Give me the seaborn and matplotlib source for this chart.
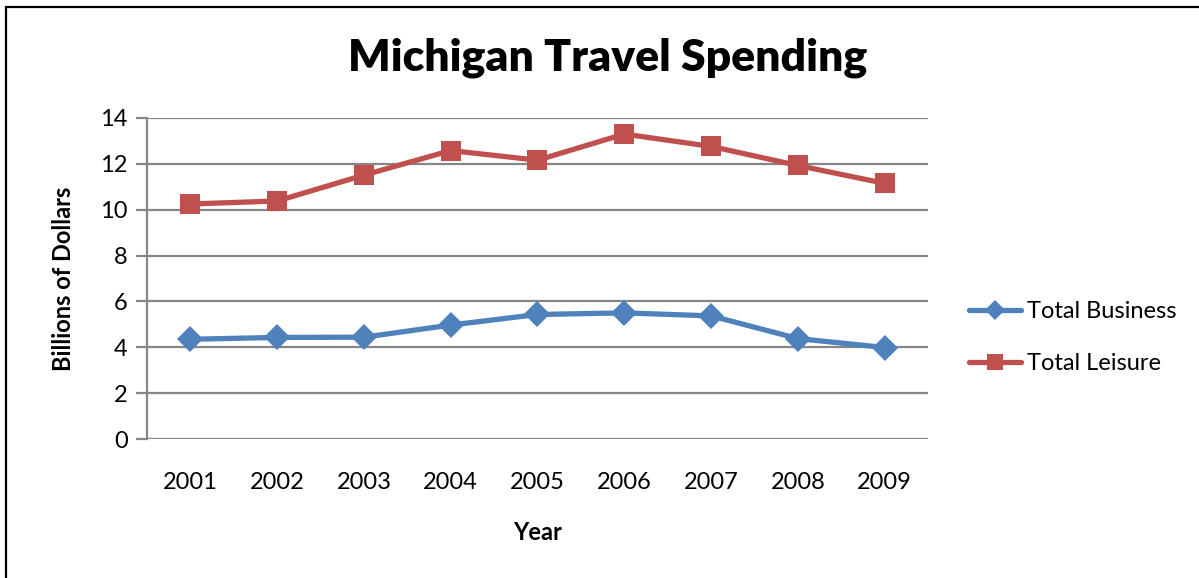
import matplotlib
matplotlib.use("Agg")
import matplotlib.pyplot as plt
import seaborn as sns
import pandas as pd
from matplotlib.patches import Rectangle

years = ["2001", "2002", "2003", "2004", "2005", "2006", "2007", "2008", "2009"]
business = [4.35, 4.43, 4.44, 4.97, 5.43, 5.50, 5.37, 4.38, 3.99]
leisure = [10.25, 10.38, 11.51, 12.58, 12.16, 13.30, 12.76, 11.93, 11.15]
series_names = ["Total Business", "Total Leisure"]
yticks = [0, 2, 4, 6, 8, 10, 12, 14]

df = pd.DataFrame({
    "Year": years * 2,
    "Value": business + leisure,
    "Series": [series_names[0]] * len(years) + [series_names[1]] * len(years),
})
df["pos"] = df["Year"].map({y: i for i, y in enumerate(years)})

sns.set_theme(style="white")
plt.rcParams["font.family"] = ["Lato", "DejaVu Sans"]
plt.rcParams["text.color"] = "black"
plt.rcParams["axes.labelcolor"] = "black"

fig = plt.figure(figsize=(11.99, 5.78), dpi=100)
ax = fig.add_axes([147 / 1199, 1 - 439 / 578, (928 - 147) / 1199, (439 - 118) / 578])

colors = {"Total Business": "#4F81BD", "Total Leisure": "#C0504D"}
markers = {"Total Business": "D", "Total Leisure": "s"}
sizes = {"Total Business": 13, "Total Leisure": 15}

for name in series_names:
    sub = df[df["Series"] == name]
    sns.lineplot(data=sub, x="pos", y="Value", ax=ax, color=colors[name],
                 marker=markers[name], markersize=sizes[name], linewidth=3.8,
                 markeredgewidth=0, label=name, zorder=3)

ax.set_xlim(-0.5, len(years) - 0.5)
ax.set_ylim(0, 14)
ax.set_yticks(yticks)
ax.set_xticks(range(len(years)))
ax.set_xticklabels(years)
ax.yaxis.grid(True, color="#868686", linewidth=1.6)
ax.xaxis.grid(False)
for s in ["top", "right", "bottom"]:
    ax.spines[s].set_visible(False)
ax.spines["left"].set_color("#868686")
ax.spines["left"].set_linewidth(1.6)
ax.tick_params(axis="y", which="major", left=True, length=8, width=1.6,
               color="#868686", labelsize=17, pad=6, labelcolor="black")
ax.tick_params(axis="x", bottom=False, labelsize=17, pad=18, labelcolor="black")

ax.set_xlabel("Year", fontsize=17, fontweight="bold", labelpad=20)
ax.set_ylabel("Billions of Dollars", fontsize=17, fontweight="bold", labelpad=18)
fig.text(608 / 1199, 1 - 58 / 578, "Michigan Travel Spending", fontsize=32,
         fontweight="heavy", ha="center", va="center", color="black")

leg = ax.legend(loc="center left", frameon=False,
                fontsize=17, handlelength=2.2, handletextpad=0.25,
                labelspacing=1.3, markerscale=0.8, borderpad=0.4)
leg.set_bbox_to_anchor((1.025, 0.316), transform=ax.transAxes)

fig.patches.append(Rectangle((6 / 1199, -0.1), 1.2, 1 - 7 / 578 + 0.1,
                             transform=fig.transFigure, fill=False,
                             edgecolor="black", linewidth=1.6))

fig.savefig("out.png", dpi=100)
